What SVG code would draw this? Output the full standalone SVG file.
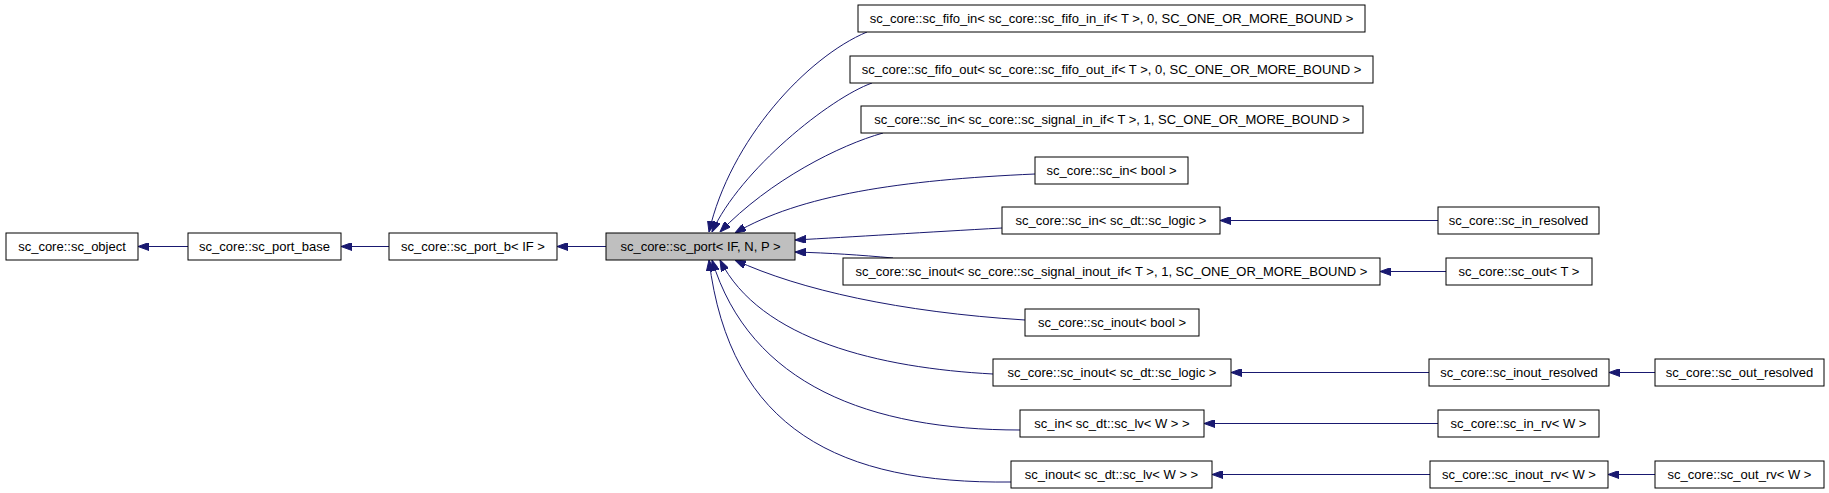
<svg xmlns="http://www.w3.org/2000/svg" width="1829" height="493" viewBox="0 0 1829 493">
<style>
.n rect{fill:#ffffff;stroke:#000000;stroke-width:1}
.n text{font-family:"Liberation Sans",Arial,sans-serif;font-size:13px;fill:#000000;text-anchor:middle}
#n_port rect{fill:#bfbfbf}
#edges path{fill:none;stroke:#191970;stroke-width:1;marker-end:url(#ah)}
</style>
<defs>
<marker id="ah" viewBox="0 0 11 8" refX="11" refY="4" markerWidth="11" markerHeight="8" markerUnits="userSpaceOnUse" orient="auto">
<path d="M0,0 L11,4 L0,8 z" fill="#191970" stroke="#191970" stroke-width="1"/>
</marker>
</defs>
<rect width="1829" height="493" fill="#ffffff"/>
<g id="edges">
<path d="M188,246.5 L138,246.5"/>
<path d="M389,246.5 L341,246.5"/>
<path d="M606,246.5 L557,246.5"/>
<path d="M867,32 C807,57 730,140 709,232"/>
<path d="M872,83 C830,98 740,170 712,232"/>
<path d="M883,133 C840,145 770,180 720,232"/>
<path d="M1035,174 C900,180 800,195 735,233"/>
<path d="M1002,228 C930,232 850,237 795,240"/>
<path d="M893,258 C860,255 830,253 795,252"/>
<path d="M1025,320 C900,312 800,290 735,260"/>
<path d="M993,374 C880,368 760,340 720,260"/>
<path d="M1020,430 C870,430 750,385 712,260"/>
<path d="M1011,482 C840,484 730,430 709,260"/>
<path d="M1438,220.5 L1220,220.5"/>
<path d="M1446,271.5 L1380,271.5"/>
<path d="M1429,372.5 L1231,372.5"/>
<path d="M1655,372.5 L1609,372.5"/>
<path d="M1438,423.5 L1204,423.5"/>
<path d="M1430,474.5 L1212,474.5"/>
<path d="M1655,474.5 L1608,474.5"/>
</g>
<g id="n_obj" class="n"><rect x="6" y="233" width="132" height="27"/><text x="72" y="251">sc_core::sc_object</text></g>
<g id="n_pbase" class="n"><rect x="188" y="233" width="153" height="27"/><text x="264.5" y="251">sc_core::sc_port_base</text></g>
<g id="n_pb" class="n"><rect x="389" y="233" width="168" height="27"/><text x="473" y="251">sc_core::sc_port_b&lt; IF &gt;</text></g>
<g id="n_port" class="n"><rect x="606" y="233" width="189" height="27"/><text x="700.5" y="251">sc_core::sc_port&lt; IF, N, P &gt;</text></g>
<g id="n_fifo_in" class="n"><rect x="858" y="5" width="507" height="27"/><text x="1111.5" y="23">sc_core::sc_fifo_in&lt; sc_core::sc_fifo_in_if&lt; T &gt;, 0, SC_ONE_OR_MORE_BOUND &gt;</text></g>
<g id="n_fifo_out" class="n"><rect x="850" y="56" width="523" height="27"/><text x="1111.5" y="74">sc_core::sc_fifo_out&lt; sc_core::sc_fifo_out_if&lt; T &gt;, 0, SC_ONE_OR_MORE_BOUND &gt;</text></g>
<g id="n_in_sig" class="n"><rect x="861" y="106" width="502" height="27"/><text x="1112" y="124">sc_core::sc_in&lt; sc_core::sc_signal_in_if&lt; T &gt;, 1, SC_ONE_OR_MORE_BOUND &gt;</text></g>
<g id="n_in_bool" class="n"><rect x="1035" y="157" width="153" height="27"/><text x="1111.5" y="175">sc_core::sc_in&lt; bool &gt;</text></g>
<g id="n_in_logic" class="n"><rect x="1002" y="207" width="218" height="27"/><text x="1111" y="225">sc_core::sc_in&lt; sc_dt::sc_logic &gt;</text></g>
<g id="n_in_resolved" class="n"><rect x="1438" y="207" width="161" height="27"/><text x="1518.5" y="225">sc_core::sc_in_resolved</text></g>
<g id="n_inout_sig" class="n"><rect x="843" y="258" width="537" height="27"/><text x="1111.5" y="276">sc_core::sc_inout&lt; sc_core::sc_signal_inout_if&lt; T &gt;, 1, SC_ONE_OR_MORE_BOUND &gt;</text></g>
<g id="n_out_t" class="n"><rect x="1446" y="258" width="146" height="27"/><text x="1519" y="276">sc_core::sc_out&lt; T &gt;</text></g>
<g id="n_inout_bool" class="n"><rect x="1025" y="309" width="174" height="27"/><text x="1112" y="327">sc_core::sc_inout&lt; bool &gt;</text></g>
<g id="n_inout_logic" class="n"><rect x="993" y="359" width="238" height="27"/><text x="1112" y="377">sc_core::sc_inout&lt; sc_dt::sc_logic &gt;</text></g>
<g id="n_inout_resolved" class="n"><rect x="1429" y="359" width="180" height="27"/><text x="1519" y="377">sc_core::sc_inout_resolved</text></g>
<g id="n_out_resolved" class="n"><rect x="1655" y="359" width="169" height="27"/><text x="1739.5" y="377">sc_core::sc_out_resolved</text></g>
<g id="n_in_lv" class="n"><rect x="1020" y="410" width="184" height="27"/><text x="1112" y="428">sc_in&lt; sc_dt::sc_lv&lt; W &gt; &gt;</text></g>
<g id="n_in_rv" class="n"><rect x="1438" y="410" width="161" height="27"/><text x="1518.5" y="428">sc_core::sc_in_rv&lt; W &gt;</text></g>
<g id="n_inout_lv" class="n"><rect x="1011" y="461" width="201" height="27"/><text x="1111.5" y="479">sc_inout&lt; sc_dt::sc_lv&lt; W &gt; &gt;</text></g>
<g id="n_inout_rv" class="n"><rect x="1430" y="461" width="178" height="27"/><text x="1519" y="479">sc_core::sc_inout_rv&lt; W &gt;</text></g>
<g id="n_out_rv" class="n"><rect x="1655" y="461" width="169" height="27"/><text x="1739.5" y="479">sc_core::sc_out_rv&lt; W &gt;</text></g>
</svg>
